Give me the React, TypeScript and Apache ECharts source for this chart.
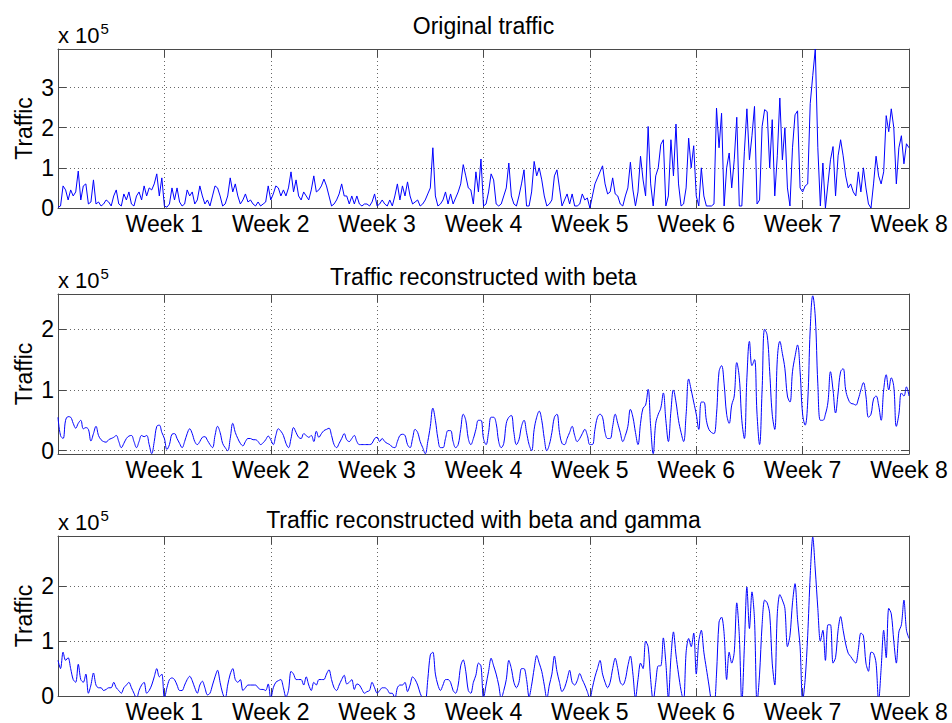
import React, { useEffect, useRef } from 'react';
import * as echarts from 'echarts';

// ---- data (values in units of 10^5, sampled 6 times per day, x in days) ----
const SAMPLES_PER_DAY = 6;
const weekTickDays = [7, 14, 21, 28, 35, 42, 49, 56];
const weekLabels = ['Week 1', 'Week 2', 'Week 3', 'Week 4', 'Week 5', 'Week 6', 'Week 7', 'Week 8'];
const panelTitles = ['Original traffic', 'Traffic reconstructed with beta', 'Traffic reconstructed with beta and gamma'];
const yAxisTitle = 'Traffic';
const yMins = [0, -0.055, 0];
const yMaxs = [3.96, 2.58, 2.92];

const originalTraffic = [
  0.02, 0.05, 0.55, 0.45, 0.2, 0.45,
  0.3, 0.4, 0.92, 0.2, 0.55, 0.6,
  0.1, 0.15, 0.7, 0.1, 0.15, 0.05,
  0.1, 0.2, 0.15, 0.05, 0.3, 0.45,
  0.1, 0.05, 0.35, 0.2, 0.4, 0.1,
  0.05, 0.3, 0.4, 0.2, 0.55, 0.3,
  0.5, 0.45, 0.6, 0.85, 0.3, 0.75,
  0.05, 0.02, 0.1, 0.5, 0.2, 0.5,
  0.15, 0.05, 0.1, 0.45, 0.3, 0.4,
  0.1, 0.2, 0.55, 0.3, 0.1, 0.2,
  0.05, 0.3, 0.55, 0.5, 0.3, 0.05,
  0.1, 0.3, 0.75, 0.4, 0.6, 0.3,
  0.1, 0.2, 0.35, 0.15, 0.2, 0.1,
  0.05, 0.15, 0.05, 0.1, 0.15, 0.55,
  0.2, 0.35, 0.55, 0.5, 0.3, 0.45,
  0.3, 0.5, 0.9, 0.4, 0.7, 0.3,
  0.2, 0.4, 0.3, 0.2, 0.45, 0.8,
  0.4, 0.45, 0.55, 0.72, 0.55, 0.3,
  0.05, 0.1, 0.2, 0.35, 0.6, 0.3,
  0.3, 0.1, 0.3, 0.1, 0.3, 0.1,
  0.05, 0.1, 0.1, 0.05, 0.15, 0.35,
  0.05, 0.1, 0.2, 0.1, 0.05, 0.2,
  0.05, 0.3, 0.6, 0.2, 0.55, 0.3,
  0.65, 0.3, 0.1, 0.15, 0.2, 0.05,
  0.1, 0.2, 0.35, 0.5, 1.5, 0.3,
  0.05, 0.1, 0.2, 0.4, 0.1, 0.35,
  0.1, 0.25, 0.4, 0.6, 1.08, 0.8,
  0.5, 0.45, 0.1, 0.9, 0.4, 1.22,
  0.05, 0.1, 0.4, 0.85, 0.7, 0.1,
  0.05, 0.1, 0.3, 0.5, 1.12, 0.3,
  0.1, 0.05, 0.3, 0.6, 0.95, 0.05,
  0.05, 0.4, 1.16, 0.8, 1.0, 0.7,
  0.3, 0.05, 0.1, 0.2, 0.8, 0.95,
  0.5, 0.05, 0.2, 0.35, 0.1, 0.35,
  0.05, 0.05, 0.1, 0.35, 0.2, 0.25,
  0.0, 0.3, 0.6, 0.75, 0.9, 1.05,
  0.6, 0.35, 0.4, 0.75, 0.35, 0.3,
  0.1, 0.05, 0.3, 0.5, 1.14, 0.45,
  0.05, 0.4, 1.29, 0.7, 0.3, 2.03,
  0.6, 0.05, 0.8, 1.0, 1.58, 1.7,
  0.05, 0.3, 1.7, 0.8, 2.09, 0.6,
  0.05, 0.1, 0.5, 1.74, 1.0, 1.55,
  0.3, 0.05, 1.0, 0.3, 0.05, 0.05,
  0.05, 0.1, 2.49, 1.5, 2.36, 0.05,
  1.0, 1.37, 0.5, 1.2, 2.26, 0.05,
  0.05, 1.4, 2.47, 1.2, 1.8, 2.53,
  0.1, 0.2, 2.03, 2.45, 2.4, 1.0,
  2.2, 0.3, 1.3, 2.74, 1.2, 2.0,
  0.5, 0.05, 1.5, 2.32, 2.42, 0.5,
  0.4, 0.55, 0.6, 2.6, 3.3, 3.96,
  1.5, 0.05, 1.12, 0.0, 0.6, 1.2,
  1.53, 0.3, 1.3, 1.7, 1.3, 0.8,
  0.5, 0.6, 0.4, 0.3, 0.9, 0.4,
  1.0, 0.5, 0.1, 0.0, 0.6, 1.29,
  0.8, 0.6, 0.9, 2.3, 1.9, 2.47,
  2.0, 0.6, 1.5, 1.8, 1.1, 1.6,
  1.5,
];

const betaTraffic = [
  0.55, 0.25, 0.2, 0.5, 0.56, 0.55,
  0.45, 0.37, 0.45, 0.5, 0.36, 0.38,
  0.35, 0.16, 0.28, 0.4, 0.25, 0.18,
  0.15, 0.14, 0.18, 0.2, 0.22, 0.25,
  0.15, 0.05, 0.12, 0.2, 0.24, 0.25,
  0.15, 0.05, 0.15, 0.25, 0.23, 0.25,
  0.1, -0.05, 0.15, 0.4, 0.42, 0.3,
  0.2, 0.02, 0.1, 0.27, 0.28, 0.2,
  0.12, 0.05, 0.15, 0.28, 0.36, 0.28,
  0.15, 0.1, 0.15, 0.22, 0.23, 0.17,
  0.1, 0.05, 0.25, 0.4, 0.3, 0.12,
  0.05, 0.0, 0.2, 0.45, 0.3, 0.2,
  0.12, 0.08, 0.15, 0.2, 0.2, 0.18,
  0.18, 0.15, 0.1, 0.13, 0.18, 0.24,
  0.18, 0.1, 0.25, 0.36, 0.32, 0.25,
  0.12, 0.05, 0.2, 0.38, 0.3, 0.22,
  0.2, 0.28, 0.25, 0.22, 0.25, 0.15,
  0.32, 0.22, 0.28, 0.33, 0.35, 0.37,
  0.25, 0.1, 0.05, 0.12, 0.2, 0.28,
  0.18, 0.15, 0.2, 0.25, 0.15, 0.1,
  0.1, 0.1, 0.1, 0.1, 0.12, 0.2,
  0.22, 0.15, 0.2, 0.15, 0.12, 0.1,
  0.06, 0.05, 0.15, 0.25, 0.27, 0.25,
  0.1, 0.05, 0.2, 0.35, 0.3, 0.15,
  0.05, -0.05, 0.15, 0.4, 0.7, 0.5,
  0.2, 0.05, 0.05, 0.2, 0.33, 0.33,
  0.15, 0.05, 0.1, 0.35, 0.6, 0.5,
  0.2, 0.1, 0.2, 0.35, 0.5, 0.5,
  0.2, 0.1, 0.3, 0.55, 0.55, 0.45,
  0.15, 0.05, 0.12, 0.45, 0.55, 0.58,
  0.3, 0.1, 0.18, 0.4, 0.5, 0.3,
  0.1, 0.0, 0.35, 0.55, 0.65, 0.5,
  0.2, 0.0, 0.1, 0.3, 0.55, 0.6,
  0.3, 0.12, 0.1, 0.2, 0.3, 0.4,
  0.25, 0.15, 0.2, 0.28, 0.35, 0.25,
  0.1, 0.1, 0.35, 0.55, 0.6, 0.55,
  0.3, 0.2, 0.2, 0.4, 0.6, 0.45,
  0.3, 0.15, 0.25, 0.4, 0.68, 0.55,
  0.3, 0.1, 0.45, 0.7, 0.75, 1.01,
  0.4, -0.05, 0.45, 0.6, 0.7, 0.95,
  0.5, 0.15, 0.65, 1.0, 0.8, 0.5,
  0.3, 0.15, 0.6, 1.18, 1.0, 0.8,
  0.6, 0.35, 0.8, 0.8, 0.5, 0.35,
  0.3, 0.28, 0.6, 1.3, 1.4, 1.1,
  0.6, 0.45, 0.75, 0.9, 1.45, 1.2,
  0.5, 0.2, 1.2, 1.8, 1.4, 1.5,
  0.6, 0.1, 1.0, 2.0, 1.9, 1.3,
  0.6, 0.35, 1.5, 1.8, 1.6, 1.35,
  0.9, 0.8, 1.3, 1.55, 1.74, 1.3,
  0.6, 0.42, 0.8, 2.0, 2.55, 2.2,
  1.1, 0.5, 0.5, 0.6, 0.8, 1.3,
  1.0, 0.62, 0.95, 1.3, 1.35, 1.0,
  0.85, 0.78, 0.77, 0.75, 0.85, 1.0,
  1.12, 0.9, 0.55, 0.6, 0.85, 0.9,
  0.75, 0.5, 1.0, 1.25, 1.0, 1.2,
  1.05, 0.4, 0.6, 0.95, 0.9, 1.05,
  0.9,
];

const betaGammaTraffic = [
  0.65, 0.5, 0.8, 0.65, 0.7, 0.5,
  0.3, 0.25, 0.58, 0.3, 0.25, 0.4,
  0.05, 0.2, 0.42, 0.2, 0.15, 0.15,
  0.1, 0.12, 0.15, 0.15, 0.25, 0.15,
  0.1, 0.05, 0.15, 0.2, 0.25, 0.15,
  0.05, -0.05, 0.1, 0.2, 0.25, 0.05,
  0.1, 0.2, 0.35, 0.5, 0.35, 0.4,
  -0.05, 0.15, 0.3, 0.33, 0.3, 0.2,
  0.1, 0.1, 0.2, 0.3, 0.36, 0.28,
  0.15, 0.05, 0.2, 0.27, 0.15, 0.02,
  0.05, 0.2, 0.35, 0.47, 0.25, 0.05,
  -0.05, 0.2, 0.4, 0.5, 0.3, 0.25,
  0.3, 0.1, 0.15, 0.2, 0.2, 0.2,
  0.2, 0.15, 0.12, 0.12, 0.1, 0.22,
  -0.05, 0.15, 0.25, 0.28, 0.3, 0.15,
  -0.02, 0.1, 0.45, 0.4, 0.3, 0.3,
  0.3, 0.2, 0.35, 0.2, 0.1, 0.25,
  0.2, 0.3, 0.3, 0.3, 0.4, 0.48,
  0.3, 0.15, 0.1, 0.2, 0.3, 0.38,
  0.22, 0.25, 0.3, 0.12, 0.22, 0.2,
  0.12, 0.05, 0.08, 0.1, 0.25, 0.15,
  0.05, 0.1, 0.15, 0.15, 0.12, 0.05,
  0.05, -0.05, 0.15, 0.2, 0.2, 0.25,
  0.08, 0.2, 0.35, 0.3, 0.2, 0.05,
  -0.05, -0.1, 0.3, 0.75, 0.8, 0.4,
  0.2, 0.1, 0.2, 0.3, 0.3, 0.25,
  0.1, 0.05, 0.2, 0.55, 0.66, 0.45,
  0.1, 0.05, 0.25, 0.38, 0.6, 0.55,
  -0.05, 0.2, 0.45, 0.69, 0.55, 0.4,
  0.2, -0.05, 0.1, 0.3, 0.65, 0.5,
  0.25, 0.15, 0.25, 0.5, 0.5, 0.3,
  -0.02, 0.2, 0.5, 0.74, 0.6, 0.45,
  0.2, -0.05, 0.2, 0.4, 0.73, 0.45,
  0.25, 0.08, 0.15, 0.3, 0.47, 0.25,
  0.2, 0.28, 0.41, 0.3, 0.2, 0.08,
  -0.05, 0.15, 0.35, 0.5, 0.65, 0.4,
  0.25, 0.15, 0.25, 0.5, 0.69, 0.5,
  0.25, 0.2, 0.3, 0.55, 0.73, 0.4,
  -0.05, 0.3, 0.6, 0.5, 1.0, 0.9,
  0.3, -0.1, 0.25, 0.55, 0.55, 1.06,
  0.6, -0.05, 0.7, 1.17, 0.75, 0.4,
  0.1, -0.1, 0.8, 1.05, 0.9, 1.15,
  0.4, 1.0, 1.2, 0.8, 0.5, 0.2,
  -0.1, -0.2, 0.4, 1.35, 1.44, 1.14,
  0.3, 0.8, 0.6, 0.8, 1.7, 1.1,
  -0.15, 0.9, 1.99, 1.23, 1.9, 1.4,
  -0.15, 0.4, 1.3, 1.75, 1.7, 1.5,
  0.6, 0.2, 1.5, 1.85, 1.75, 1.6,
  0.9, 1.1, 1.7, 2.05, 1.4, 0.9,
  -0.1, 0.3, 1.1, 2.2, 2.9, 2.3,
  1.6, 1.0, 1.2, 0.65, 1.3, 1.3,
  0.6, 0.7, 1.2, 1.45, 1.2, 0.95,
  0.78, 0.72, 0.65, 0.6, 0.85, 1.15,
  1.1, 0.6, 0.45, 0.8, 0.78, 0.6,
  -0.1, 0.5, 1.2, 0.7, 1.6, 1.5,
  1.0, 0.6, 1.17, 1.3, 1.75, 1.2,
  1.05,
];

const panelSeries = [originalTraffic, betaTraffic, betaGammaTraffic];

const toPoints = (vals: number[]) => vals.map((v, i) => [i / SAMPLES_PER_DAY, v]);

const FONT = "'Liberation Sans', Arial, Helvetica, sans-serif";
const AXIS_COLOR = '#4a4a4a';
const GRID_COLOR = '#666666';
const LINE_COLOR = '#0000ff';
const PANEL_SMOOTH = [false, 0.4, 0.3];
const TITLE_OFFSETS = [23, 17, 16.5];

export default function App() {
  const ref = useRef<HTMLDivElement>(null);

  useEffect(() => {
    if (!ref.current) return;
    const chart = echarts.init(ref.current, null, { renderer: 'svg' });

    const grids = [
      { left: 58, top: 49, width: 851, height: 159 },
      { left: 58, top: 294, width: 851, height: 160 },
      { left: 58, top: 536, width: 851, height: 160 },
    ];

    const xAxes: any[] = [];
    const yAxes: any[] = [];
    const series: any[] = [];
    const graphics: any[] = [];

    grids.forEach((g, i) => {
      const baseX = {
        type: 'value',
        gridIndex: i,
        min: 0,
        max: 56,
        interval: 7,
      };
      xAxes.push({
        ...baseX,
        position: 'bottom',
        axisLine: { show: true, onZero: false, lineStyle: { color: AXIS_COLOR, width: 1 } },
        axisTick: { show: true, inside: true, length: 8, lineStyle: { color: AXIS_COLOR } },
        axisLabel: {
          show: true,
          margin: 4,
          fontSize: 23,
          fontFamily: FONT,
          color: '#000',
          formatter: (v: number) => {
            const k = weekTickDays.indexOf(Math.round(v));
            return k >= 0 ? weekLabels[k] : '';
          },
        },
        splitLine: { show: true, lineStyle: { color: GRID_COLOR, type: [1, 3], width: 1 } },
      });
      xAxes.push({
        ...baseX,
        position: 'top',
        axisLine: { show: true, onZero: false, lineStyle: { color: AXIS_COLOR, width: 1 } },
        axisTick: { show: true, inside: true, length: 8, lineStyle: { color: AXIS_COLOR } },
        axisLabel: { show: false },
        splitLine: { show: false },
      });
      const baseY = {
        type: 'value',
        gridIndex: i,
        min: yMins[i],
        max: yMaxs[i],
        minInterval: 1,
        maxInterval: 1,
        splitNumber: 3,
      };
      yAxes.push({
        ...baseY,
        position: 'left',
        axisLine: { show: true, onZero: false, lineStyle: { color: AXIS_COLOR, width: 1 } },
        axisTick: { show: true, inside: true, length: 8, lineStyle: { color: AXIS_COLOR } },
        axisLabel: {
          show: true,
          margin: 4,
          fontSize: 23,
          fontFamily: FONT,
          color: '#000',
          formatter: (v: number) => (Math.abs(v - Math.round(v)) < 1e-6 ? String(Math.abs(Math.round(v))) : ''),
        },
        splitLine: { show: true, lineStyle: { color: GRID_COLOR, type: [1, 3], width: 1 } },
      });
      yAxes.push({
        ...baseY,
        position: 'right',
        axisLine: { show: true, onZero: false, lineStyle: { color: AXIS_COLOR, width: 1 } },
        axisTick: { show: true, inside: true, length: 8, lineStyle: { color: AXIS_COLOR } },
        axisLabel: { show: false },
        splitLine: { show: false },
      });

      series.push({
        type: 'line',
        xAxisIndex: 2 * i,
        yAxisIndex: 2 * i,
        data: toPoints(panelSeries[i]),
        showSymbol: false,
        symbol: 'none',
        smooth: PANEL_SMOOTH[i],
        clip: true,
        lineStyle: { color: LINE_COLOR, width: 1 },
        emphasis: { disabled: true },
      });

      const T = g.top;
      const midX = g.left + g.width / 2;
      graphics.push({
        type: 'text',
        x: midX,
        y: T - TITLE_OFFSETS[i],
        style: { text: panelTitles[i], font: `23px ${FONT}`, fill: '#000', align: 'center', verticalAlign: 'middle' },
      });
      graphics.push({
        type: 'text',
        x: 58,
        y: T - 14,
        style: { text: 'x 10', font: `22px ${FONT}`, fill: '#000', align: 'left', verticalAlign: 'middle' },
      });
      graphics.push({
        type: 'text',
        x: 100.5,
        y: T - 21,
        style: { text: '5', font: `15px ${FONT}`, fill: '#000', align: 'left', verticalAlign: 'middle' },
      });
      graphics.push({
        type: 'text',
        x: 23.5,
        y: T + g.height / 2,
        rotation: Math.PI / 2,
        style: { text: yAxisTitle, font: `23px ${FONT}`, fill: '#000', align: 'center', verticalAlign: 'middle' },
      });
    });

    chart.setOption({
      animation: false,
      backgroundColor: '#ffffff',
      grid: grids.map((g) => ({ ...g, containLabel: false })),
      xAxis: xAxes,
      yAxis: yAxes,
      series,
      graphic: { elements: graphics },
    });

    return () => {
      chart.dispose();
    };
  }, []);

  return (
    <div
      ref={ref}
      style={{ position: 'fixed', left: 0, top: 0, width: 952, height: 723, background: '#ffffff' }}
    />
  );
}
